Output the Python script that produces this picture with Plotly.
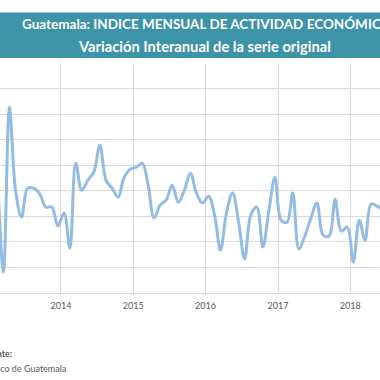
import plotly.graph_objects as go
import pandas as pd

# Monthly data: Feb 2013 .. Jun 2018 (interannual % variation)
months = pd.date_range("2013-02-01", "2018-06-01", freq="MS").strftime("%Y-%m-%d").tolist()
values = [
    4.61, 0.82, 7.27, 4.02, 2.97, 4.10, 4.10, 3.87, 3.36, 3.36, 2.62,   # Feb-Dec 2013
    3.13, 1.76, 5.08, 4.02, 4.41, 4.73, 5.78, 4.41, 4.10, 3.75, 4.53, 4.84,  # 2014
    4.92, 5.08, 4.26, 2.93, 3.44, 3.63, 4.22, 3.55, 4.02, 4.69, 3.91, 3.52,  # 2015
    3.79, 3.05, 1.68, 3.16, 3.91, 2.77, 1.33, 3.05, 3.36, 1.80, 3.24, 4.53,  # 2016
    2.85, 2.77, 3.91, 1.72, 2.23, 2.93, 3.52, 2.27, 2.23, 3.67, 2.42, 2.58,  # 2017
    1.21, 2.85, 2.07, 3.48, 3.40, 3.24,                                      # 2018
]

title_line1 = "Guatemala: INDICE MENSUAL DE ACTIVIDAD ECONÓMICA"
title_line2 = "Variación Interanual de la serie original"
source_label = "Fuente:"
source_text = "Banco de Guatemala"

W, H = 380, 380
top_px, bottom_px = 62.6, 293.0
plot_h = bottom_px - top_px

def py(p):
    return (bottom_px - p) / plot_h

fig = go.Figure()
fig.add_trace(go.Scatter(
    x=months, y=values, mode="lines",
    xperiod="M1", xperiodalignment="middle",
    line=dict(color="#92bce3", width=3, shape="spline", smoothing=1.0),
    hoverinfo="skip", showlegend=False,
))

fig.update_layout(
    width=W, height=H,
    margin=dict(l=0, r=0, t=top_px, b=H - bottom_px, pad=0),
    paper_bgcolor="white", plot_bgcolor="white",
    font=dict(family="Lato, Open Sans, sans-serif", color="#595959"),
    xaxis=dict(
        type="date", range=["2013-02-27 04:00", "2018-05-31"],
        dtick="M12", tick0="2014-01-01", tickformat="%Y",
        showgrid=True, gridcolor="#d9d9d9", gridwidth=1,
        showline=True, linecolor="#d9d9d9", linewidth=1,
        ticks="", tickfont=dict(size=9, color="#595959"),
        ticklabelstandoff=4, zeroline=False, fixedrange=True,
    ),
    yaxis=dict(
        range=[0, 9], dtick=1, showticklabels=False,
        showgrid=True, gridcolor="#d9d9d9", gridwidth=1,
        zeroline=False, showline=False, ticks="", fixedrange=True,
    ),
    shapes=[dict(
        type="rect", xref="paper", yref="paper",
        x0=-0.01, x1=1.01, y0=py(57.5), y1=py(12),
        fillcolor="#3d93a7", line=dict(width=0), layer="above",
    )],
    annotations=[
        dict(text="<b>" + title_line1 + "</b>", xref="paper", yref="paper",
             x=20 / W, y=py(23.5), xanchor="left", yanchor="middle",
             showarrow=False, font=dict(size=13.5, color="white")),
        dict(text="<b>" + title_line2 + "</b>", xref="paper", yref="paper",
             x=204 / W, y=py(45.5), xanchor="center", yanchor="middle",
             showarrow=False, font=dict(size=14.7, color="white")),
        dict(text="<b>" + source_label + "</b>", xref="paper", yref="paper",
             x=14 / W, y=py(354), xanchor="right", yanchor="middle",
             showarrow=False, font=dict(size=9, color="#595959")),
        dict(text=source_text, xref="paper", yref="paper",
             x=68 / W, y=py(369), xanchor="right", yanchor="middle",
             showarrow=False, font=dict(size=9, color="#595959")),
    ],
)

fig.write_html("out.html", config={"displayModeBar": False},
               post_script="document.body.style.margin='0';")
